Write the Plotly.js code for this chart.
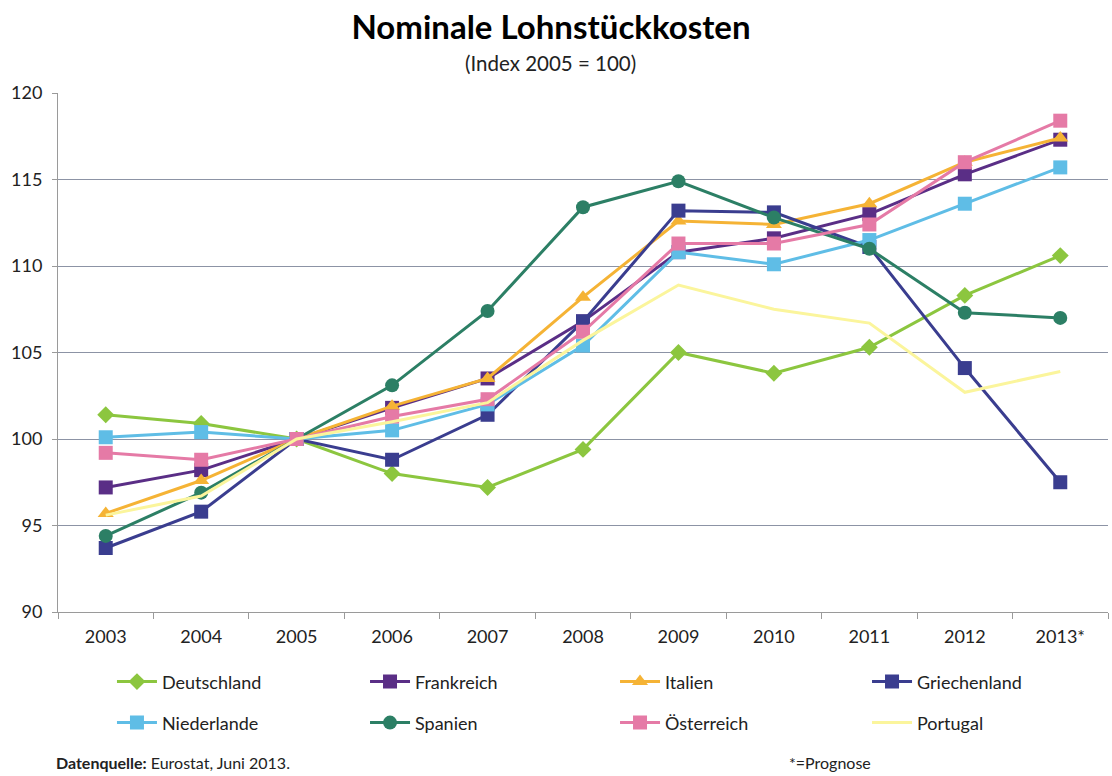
<!DOCTYPE html>
<html>
<head>
<meta charset="utf-8">
<script src="https://cdn.plot.ly/plotly-3.0.1.min.js"></script>
<style>html,body{margin:0;padding:0;background:#fff;}#chart{width:1112px;height:776px;}</style>
</head>
<body>
<div id="chart"></div>
<script>
const years = ['2003','2004','2005','2006','2007','2008','2009','2010','2011','2012','2013*'];
const deutschland  = [101.4, 100.9, 100, 98.0, 97.2, 99.4, 105.0, 103.8, 105.3, 108.3, 110.6];
const frankreich   = [97.2, 98.2, 100, 101.8, 103.5, 106.8, 110.8, 111.6, 113.0, 115.3, 117.3];
const italien      = [95.7, 97.6, 100, 101.9, 103.5, 108.2, 112.6, 112.4, 113.6, 116.0, 117.4];
const griechenland = [93.7, 95.8, 100, 98.8, 101.4, 106.8, 113.2, 113.1, 111.1, 104.1, 97.5];
const niederlande  = [100.1, 100.4, 100, 100.5, 102.0, 105.4, 110.8, 110.1, 111.5, 113.6, 115.7];
const spanien      = [94.4, 96.9, 100, 103.1, 107.4, 113.4, 114.9, 112.8, 111.0, 107.3, 107.0];
const oesterreich  = [99.2, 98.8, 100, 101.3, 102.3, 106.2, 111.3, 111.3, 112.4, 116.0, 118.4];
const portugal     = [95.6, 96.7, 100, 101.0, 102.1, 105.7, 108.9, 107.5, 106.7, 102.7, 103.9];

const names   = ['Deutschland','Frankreich','Italien','Griechenland','Niederlande','Spanien','Österreich','Portugal'];
const series  = [deutschland, frankreich, italien, griechenland, niederlande, spanien, oesterreich, portugal];
const colors  = ['#8cc63f','#5a2e86','#f5b335','#3a3d8f','#5fbde6','#2c7f65','#e57aa6','#fbf59c'];
const symbols = ['diamond','square','triangle-up','square','square','circle','square',null];
const sizes   = [13, 14, 14, 14, 14, 14, 14, 0];

const legendId = i => (i === 0 ? 'legend' : 'legend' + (i + 1));

const traces = series.map((s, i) => {
  const t = {
    type: 'scatter',
    mode: symbols[i] ? 'lines+markers' : 'lines',
    name: names[i],
    legend: legendId(i),
    x: years,
    y: s,
    line: {color: colors[i], width: 3}
  };
  if (symbols[i]) t.marker = {symbol: symbols[i], size: sizes[i], color: colors[i]};
  return t;
});

const layout = {
  width: 1112, height: 776,
  paper_bgcolor: '#fff', plot_bgcolor: '#fff',
  margin: {l: 58, r: 4, t: 93, b: 164},
  font: {family: 'Lato, "Open Sans", sans-serif', color: '#222', size: 16},
  showlegend: true,
  title: {text: '<b>Nominale Lohnstückkosten</b>', xref: 'container', x: 0.4955, xanchor: 'center',
          yref: 'container', y: 0.965, yanchor: 'middle',
          font: {family: 'Lato, sans-serif', size: 33, color: '#000'}},
  xaxis: {
    type: 'category', range: [-0.5, 10.5],
    showline: true, linecolor: '#9a9a9a', linewidth: 1,
    ticks: 'outside', tickson: 'boundaries', ticklen: 6, tickcolor: '#9a9a9a',
    showgrid: false, zeroline: false, ticklabelstandoff: 8,
    tickfont: {size: 18, color: '#222'}, fixedrange: true
  },
  yaxis: {
    range: [90, 120], dtick: 5, tick0: 90,
    showline: true, linecolor: '#9a9a9a', linewidth: 1,
    ticks: 'outside', ticklen: 5, tickcolor: '#9a9a9a',
    showgrid: true, gridcolor: '#8c93a5', gridwidth: 1, ticklabelstandoff: 6,
    zeroline: false, tickfont: {size: 18, color: '#222'}, fixedrange: true
  },
  annotations: [
    {text: '(Index 2005 = 100)', xref: 'paper', yref: 'paper', x: 0.4695, xanchor: 'center',
     y: 1.0, yshift: 30, yanchor: 'middle', showarrow: false, font: {size: 20.5, color: '#222'}},
    {text: '<b>Datenquelle:</b> Eurostat, Juni 2013.', xref: 'paper', yref: 'paper', x: 0, xshift: -4, xanchor: 'left',
     y: 0, yshift: -150, yanchor: 'middle', showarrow: false, font: {size: 16, color: '#222'}},
    {text: '*=Prognose', xref: 'paper', yref: 'paper', x: 0.694, xanchor: 'left',
     y: 0, yshift: -150, yanchor: 'middle', showarrow: false, font: {size: 16, color: '#222'}}
  ]
};

// legend grid: 4 columns x 2 rows, one legend per entry
const legendCols = [0.0514, 0.2924, 0.5305, 0.7705];
const legendRows = [-0.099, -0.178];
names.forEach((n, i) => {
  layout[legendId(i)] = {
    orientation: 'h', x: legendCols[i % 4], xanchor: 'left',
    y: legendRows[Math.floor(i / 4)], yanchor: 'top',
    font: {size: 18, color: '#222'}, itemwidth: 40, bgcolor: 'rgba(0,0,0,0)'
  };
});

Plotly.newPlot('chart', traces, layout, {displayModeBar: false, staticPlot: true});
</script>
</body>
</html>
